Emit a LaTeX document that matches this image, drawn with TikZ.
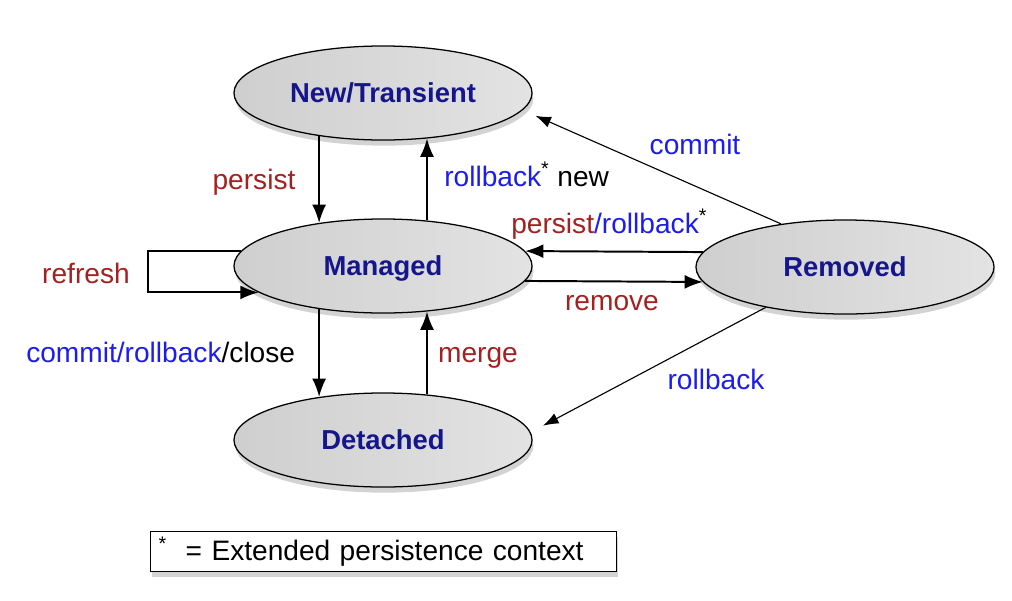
\documentclass[tikz,border=0pt]{standalone}
\usepackage{fontspec}
\setmainfont{Liberation Sans}
\usetikzlibrary{shapes.geometric,arrows.meta,shadows}

\definecolor{statetext}{RGB}{22,22,140}
\definecolor{opred}{RGB}{165,32,32}
\definecolor{opblue}{RGB}{28,28,238}

\begin{document}
\begin{tikzpicture}[x=0.025cm, y=-0.025cm,
                    state/.style = {ellipse, draw, line width=0.9pt,
                    minimum width=7.45cm, minimum height=2.35cm,
                    left color=gray!38, middle color=gray!6, right color=gray!22,
                    drop shadow={shadow xshift=1pt, shadow yshift=-4pt, opacity=0.35},
                    font=\fontsize{19.5}{22}\selectfont\bfseries, text=statetext,
                    text height=2.6ex, text depth=0ex},
                    op/.style = {font=\fontsize{20}{24}\selectfont, inner sep=0pt,
                    text height=1.5ex, text depth=0.3ex},
                    trans/.style = {line width=1.4pt, -{Latex[length=13pt,width=10pt]}},
                    diag/.style = {line width=0.8pt, -{Latex[length=11pt,width=8pt]},
                    shorten >=0.35cm}]
  \useasboundingbox (0,0) rectangle (1012,600);

  % states
  \node[state] (new) at (383,93) {New/Transient};
  \node[state] (managed) at (383,266) {Managed};
  \node[state] (detached) at (383,440) {Detached};
  \node[state] (removed) at (845,267) {Removed};

  % transitions
  \draw[trans] (new.214) -- (managed.146);
  \draw[trans] (managed.46) -- (new.314);
  \draw[trans] (managed.214) -- (detached.146);
  \draw[trans] (detached.46) -- (managed.314);
  \draw[trans] (removed.174) -- (managed.6);
  \draw[trans] (managed.-6) -- (removed.186);
  \draw[trans] (managed.174) -- ++(-93,0) |- (managed.192);
  \draw[diag] (removed.146) -- (new.-7);
  \draw[diag] (removed.207) -- (detached.3);

  % labels
  \node[op, text=opred] (persistlbl) at (254,185) {persist};
  \node[op, anchor=west] (rollbacknewlbl) at (444,182)
    {\textcolor{opblue}{rollback}\textsuperscript{*} new};
  \node[op, anchor=west] (persistrollbacklbl) at (511,229)
    {\textcolor{opred}{persist}\textcolor{opblue}{/rollback}\textsuperscript{*}};
  \node[op, text=opred] (removelbl) at (612,306) {remove};
  \node[op, text=opblue] (commitlbl) at (695,150) {commit};
  \node[op, text=opblue] (rollbacklbl) at (716,385) {rollback};
  \node[op, text=opred] (refreshlbl) at (86,279) {refresh};
  \node[op, anchor=west] (closelbl) at (26,358)
    {\textcolor{opblue}{commit/rollback}/close};
  \node[op, text=opred] (mergelbl) at (478,358) {merge};

  % legend
  \node[draw, line width=0.9pt, fill=white, anchor=west,
        minimum width=11.65cm, minimum height=0.775cm, inner xsep=0.2cm,
        text width=11.25cm, align=left,
        drop shadow={shadow xshift=1pt, shadow yshift=-4pt, opacity=0.35},
        font=\fontsize{20}{24}\selectfont] (legend) at (150,551.5)
    {\textsuperscript{*}\ \ = Extended persistence context};
\end{tikzpicture}
\end{document}
